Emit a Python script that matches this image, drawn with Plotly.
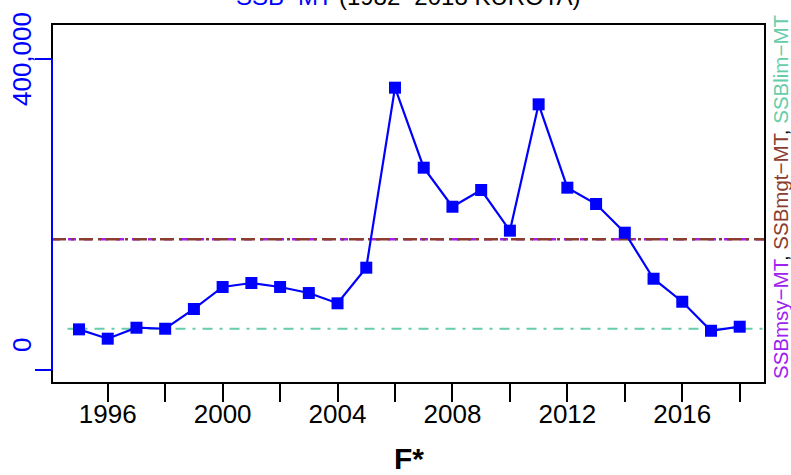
import plotly.graph_objects as go

years = list(range(1995, 2019))
ssb = [52300, 40300, 54400, 53100, 78500, 106800, 111900, 106800, 99000, 85800,
       131600, 363100, 260200, 210000, 231500, 179200, 341700, 234500, 213500,
       176600, 117400, 87800, 50500, 55700]
ssb_msy = 168100
ssb_mgt = 168100
ssb_lim = 53100
x_tickvals = list(range(1996, 2019, 2))
x_ticktext = [str(y) if (y - 1996) % 4 == 0 else "" for y in x_tickvals]
y_tickvals = [0, 400000]
y_ticktext = ["0", "400,000"]

FONT = "Liberation Sans, Arial, sans-serif"
BLUE = "#0000FF"
PURPLE = "#A020F0"
BROWN = "#8B3E2F"
GREEN = "#66CDAA"

xr = [1994.06, 2018.88]
fig = go.Figure()

fig.add_trace(go.Scatter(x=xr, y=[ssb_msy, ssb_msy], mode="lines",
                         line=dict(color=PURPLE, width=2.5, dash="8px,8px"),
                         hoverinfo="skip", showlegend=False))
fig.add_trace(go.Scatter(x=xr, y=[ssb_mgt, ssb_mgt], mode="lines",
                         line=dict(color=BROWN, width=2.5, dash="14px,5px,3px,5px"),
                         hoverinfo="skip", showlegend=False))
fig.add_trace(go.Scatter(x=[1994.6, xr[1]], y=[ssb_lim, ssb_lim], mode="lines",
                         line=dict(color=GREEN, width=2.2, dash="10px,7px,3px,7px"),
                         hoverinfo="skip", showlegend=False))
fig.add_trace(go.Scatter(x=years, y=ssb, mode="lines+markers",
                         line=dict(color=BLUE, width=2.2),
                         marker=dict(symbol="square", size=12, color=BLUE),
                         showlegend=False))
# invisible trace to carry the label axis
fig.add_trace(go.Scatter(x=xr, y=[ssb_lim, ssb_lim], xaxis="x2", mode="lines",
                         line=dict(color="rgba(0,0,0,0)", width=0),
                         hoverinfo="skip", showlegend=False))

# plot box
fig.add_shape(type="rect", xref="paper", yref="paper", x0=0, x1=1, y0=0, y1=1,
              line=dict(color="black", width=2))
# blue y-axis line between ticks
fig.add_shape(type="line", xref="paper", yref="y", x0=0, x1=0,
              y0=y_tickvals[0], y1=y_tickvals[-1], line=dict(color=BLUE, width=2))

# y tick labels (rotated)
for v, t, shift in zip(y_tickvals, y_ticktext, [25, 0]):
    fig.add_annotation(x=-0.042, xref="paper", y=v, yref="y", text=t, showarrow=False,
                       textangle=-90, yshift=shift, xanchor="center", yanchor="middle",
                       font=dict(family=FONT, size=26, color=BLUE))

# title (partly clipped at top)
fig.add_annotation(x=0.5, xref="paper", y=1 + 27.5 / 359, yref="paper",
                   text='<span style="color:#0000FF">SSB\u2212MT</span> (1982\u22122018 KUROTA)',
                   showarrow=False, xanchor="center", yanchor="middle",
                   font=dict(family=FONT, size=24, color="black"))

# x axis title
fig.add_annotation(x=0.5, xref="paper", y=-(459 - 383) / 359, yref="paper",
                   text="<b>F*</b>", showarrow=False, xanchor="center", yanchor="middle",
                   font=dict(family=FONT, size=30, color="black"))

# right-side reference labels
fig.add_annotation(x=1 + (780 - 765) / 713, xref="paper", y=(383 - 197) / 359, yref="paper",
                   text=('<span style="color:%s">SSBmsy\u2212MT</span>, '
                         '<span style="color:%s">SSBmgt\u2212MT</span>, '
                         '<span style="color:%s">SSBlim\u2212MT</span>') % (PURPLE, BROWN, GREEN),
                   showarrow=False, textangle=-90, xanchor="center", yanchor="middle",
                   font=dict(family=FONT, size=20.5, color="black"))

fig.update_layout(
    width=791, height=475, autosize=False,
    margin=dict(l=52, r=26, t=24, b=92, pad=0),
    paper_bgcolor="white", plot_bgcolor="white",
    font=dict(family=FONT, color="black"),
    xaxis=dict(range=xr, tickmode="array", tickvals=x_tickvals,
               ticks="outside", ticklen=18, tickwidth=2, tickcolor="black",
               showticklabels=False,
               showgrid=False, zeroline=False, showline=False),
    xaxis2=dict(range=xr, overlaying="x", side="bottom", anchor="y",
                tickmode="array", tickvals=x_tickvals, ticktext=x_ticktext,
                ticks="outside", ticklen=8, tickwidth=0, tickcolor="rgba(0,0,0,0)",
                showgrid=False, zeroline=False, showline=False,
                tickfont=dict(family=FONT, size=26, color="black")),
    yaxis=dict(range=[-16700, 445000], tickmode="array", tickvals=y_tickvals,
               ticks="outside", ticklen=16, tickwidth=2, tickcolor=BLUE,
               showticklabels=False, showgrid=False, zeroline=False, showline=False),
)

fig.write_html("out.html", config={"displayModeBar": False},
               post_script="document.body.style.margin='0';document.body.style.overflow='hidden';")
